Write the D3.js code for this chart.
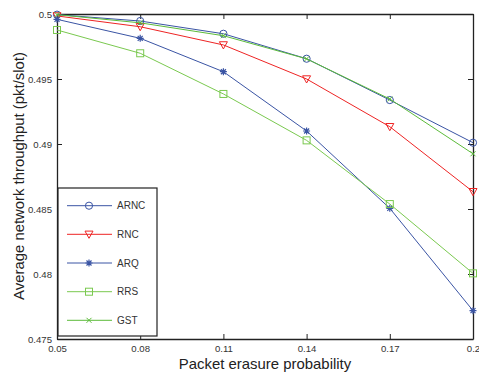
<!DOCTYPE html>
<html><head><meta charset="utf-8">
<script src="https://cdn.jsdelivr.net/npm/d3@7"></script>
<style>body{margin:0;background:#fff}svg{display:block}text{font-family:"Liberation Sans",Arial,sans-serif}</style>
</head><body><svg id="c" width="479" height="372"></svg>
<script>
const xValues = [0.05, 0.08, 0.11, 0.14, 0.17, 0.2];
const xTicks = [0.05, 0.08, 0.11, 0.14, 0.17, 0.2];
const xTickLabels = ["0.05", "0.08", "0.11", "0.14", "0.17", "0.2"];
const yTicks = [0.475, 0.48, 0.485, 0.49, 0.495, 0.5];
const yTickLabels = ["0.475", "0.48", "0.485", "0.49", "0.495", "0.5"];
const seriesNames = ["ARNC", "RNC", "ARQ", "RRS", "GST"];
const arnc = [0.49995, 0.49946, 0.49848, 0.49656, 0.49338, 0.4901];
const rnc  = [0.49985, 0.49902, 0.49762, 0.4950, 0.49133, 0.48633];
const arq  = [0.49959, 0.49813, 0.49556, 0.4910, 0.48505, 0.47718];
const rrs  = [0.49877, 0.49698, 0.49385, 0.49028, 0.48538, 0.48005];
const gst  = [0.49995, 0.49932, 0.49833, 0.49655, 0.49346, 0.48925];
const xLabel = "Packet erasure probability";
const yLabel = "Average network throughput (pkt/slot)";

const seriesValues = [arnc, rnc, arq, rrs, gst];
const colors = ["#3a54a4", "#ee2424", "#3a54a4", "#7ac94f", "#5cbb3a"];
const markers = ["circle", "triangle", "asterisk", "square", "cross"];

const svg = d3.select("#c");
const L = 57, R = 473, T = 14, B = 339;
const x = d3.scaleLinear().domain([0.05, 0.2]).range([L, R]);
const y = d3.scaleLinear().domain([0.475, 0.5]).range([B, T]);

function drawMarker(g, type, color) {
  if (type === "circle") g.append("circle").attr("r", 3.6).attr("fill", "none").attr("stroke", color);
  else if (type === "triangle") g.append("path").attr("d", "M-4,-3.2L4,-3.2L0,4Z").attr("fill", "none").attr("stroke", color);
  else if (type === "square") g.append("rect").attr("x", -3.5).attr("y", -3.5).attr("width", 7).attr("height", 7).attr("fill", "none").attr("stroke", color);
  else if (type === "asterisk") g.append("path").attr("d", "M-3.5,0L3.5,0M0,-3.5L0,3.5M-2.5,-2.5L2.5,2.5M-2.5,2.5L2.5,-2.5").attr("stroke", color).attr("stroke-width", 1.2);
  else if (type === "cross") g.append("path").attr("d", "M-2.5,-2.5L2.5,2.5M-2.5,2.5L2.5,-2.5").attr("stroke", color);
}

// axes box
const ax = svg.append("g");
ax.append("g").attr("transform", `translate(0,${B})`)
  .call(d3.axisBottom(x).tickValues(xTicks).tickFormat((d,i)=>xTickLabels[i]).tickSizeInner(-5).tickSizeOuter(0).tickPadding(6));
ax.append("g").attr("transform", `translate(0,${T})`)
  .call(d3.axisTop(x).tickValues(xTicks).tickFormat("").tickSizeInner(-5).tickSizeOuter(0));
ax.append("g").attr("transform", `translate(${L},0)`)
  .call(d3.axisLeft(y).tickValues(yTicks).tickFormat((d,i)=>yTickLabels[i]).tickSizeInner(-5).tickSizeOuter(0).tickPadding(5));
ax.append("g").attr("transform", `translate(${R},0)`)
  .call(d3.axisRight(y).tickValues(yTicks).tickFormat("").tickSizeInner(-5).tickSizeOuter(0));
ax.selectAll(".domain").attr("stroke", "#222").attr("stroke-width", 1.3);
ax.selectAll(".tick line").attr("stroke", "#222");
ax.selectAll(".tick text").attr("font-size", 9.6).attr("fill", "#333");

// lines
const line = d3.line().x((d,i)=>x(xValues[i])).y(d=>y(d));
seriesValues.forEach((vals, s) => {
  svg.append("path").datum(vals).attr("d", line).attr("fill", "none").attr("stroke", colors[s]).attr("stroke-width", 1);
  vals.forEach((v, i) => {
    const g = svg.append("g").attr("transform", `translate(${x(xValues[i])},${y(v)})`);
    drawMarker(g, markers[s], colors[s]);
  });
});

// legend
const lg = svg.append("g");
lg.append("rect").attr("x", 58).attr("y", 188).attr("width", 99).attr("height", 148)
  .attr("fill", "#fff").attr("stroke", "#222").attr("stroke-width", 1.2);
const lgY = [205.7, 234.3, 263, 291.7, 320.3];
seriesNames.forEach((n, s) => {
  lg.append("line").attr("x1", 67).attr("x2", 112).attr("y1", lgY[s]).attr("y2", lgY[s]).attr("stroke", colors[s]);
  drawMarker(lg.append("g").attr("transform", `translate(89,${lgY[s]})`), markers[s], colors[s]);
  lg.append("text").attr("x", 117).attr("y", lgY[s]).attr("dy", "0.35em").attr("font-size", 10).attr("fill", "#333").text(n);
});

// titles, sized to the reference's measured extents
function fit(t, target) {
  const w = t.node().getComputedTextLength();
  t.attr("font-size", 14 * target / w);
}
const xt = svg.append("text").attr("x", 265).attr("y", 368.5).attr("text-anchor", "middle").attr("font-size", 14).attr("fill", "#222").text(xLabel);
fit(xt, 172.6);
const yt = svg.append("text").attr("transform", "translate(23.5,176) rotate(-90)").attr("text-anchor", "middle").attr("font-size", 14).attr("fill", "#222").text(yLabel);
fit(yt, 248);
</script></body></html>
